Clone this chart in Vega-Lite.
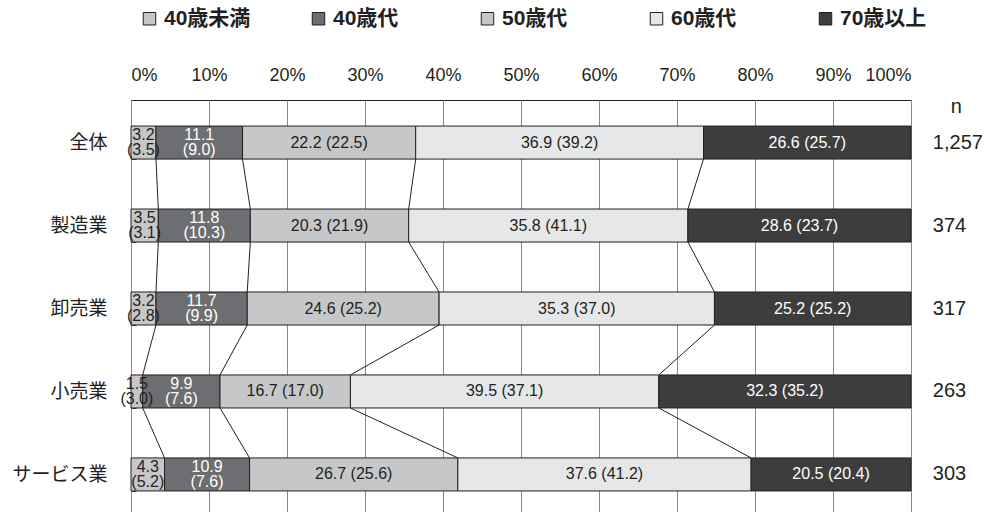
{
  "$schema": "https://vega.github.io/schema/vega-lite/v6.json",
  "autosize": {"type": "none"},
  "padding": {"left": 131, "top": 100, "right": 93, "bottom": 0},
  "width": 780,
  "height": 417,
  "config": {
    "view": {"stroke": "#231f20", "strokeWidth": 1},
    "font": "Liberation Sans"
  },
  "datasets": {
    "main": [
      {"cat": "全体", "ci": 1, "age": "40歳未満", "ai": 1, "v": 3.2, "p": 3.5},
      {"cat": "全体", "ci": 1, "age": "40歳代", "ai": 2, "v": 11.1, "p": 9.0},
      {"cat": "全体", "ci": 1, "age": "50歳代", "ai": 3, "v": 22.2, "p": 22.5},
      {"cat": "全体", "ci": 1, "age": "60歳代", "ai": 4, "v": 36.9, "p": 39.2},
      {"cat": "全体", "ci": 1, "age": "70歳以上", "ai": 5, "v": 26.6, "p": 25.7},
      {"cat": "製造業", "ci": 2, "age": "40歳未満", "ai": 1, "v": 3.5, "p": 3.1},
      {"cat": "製造業", "ci": 2, "age": "40歳代", "ai": 2, "v": 11.8, "p": 10.3},
      {"cat": "製造業", "ci": 2, "age": "50歳代", "ai": 3, "v": 20.3, "p": 21.9},
      {"cat": "製造業", "ci": 2, "age": "60歳代", "ai": 4, "v": 35.8, "p": 41.1},
      {"cat": "製造業", "ci": 2, "age": "70歳以上", "ai": 5, "v": 28.6, "p": 23.7},
      {"cat": "卸売業", "ci": 3, "age": "40歳未満", "ai": 1, "v": 3.2, "p": 2.8},
      {"cat": "卸売業", "ci": 3, "age": "40歳代", "ai": 2, "v": 11.7, "p": 9.9},
      {"cat": "卸売業", "ci": 3, "age": "50歳代", "ai": 3, "v": 24.6, "p": 25.2},
      {"cat": "卸売業", "ci": 3, "age": "60歳代", "ai": 4, "v": 35.3, "p": 37.0},
      {"cat": "卸売業", "ci": 3, "age": "70歳以上", "ai": 5, "v": 25.2, "p": 25.2},
      {"cat": "小売業", "ci": 4, "age": "40歳未満", "ai": 1, "v": 1.5, "p": 3.0},
      {"cat": "小売業", "ci": 4, "age": "40歳代", "ai": 2, "v": 9.9, "p": 7.6},
      {"cat": "小売業", "ci": 4, "age": "50歳代", "ai": 3, "v": 16.7, "p": 17.0},
      {"cat": "小売業", "ci": 4, "age": "60歳代", "ai": 4, "v": 39.5, "p": 37.1},
      {"cat": "小売業", "ci": 4, "age": "70歳以上", "ai": 5, "v": 32.3, "p": 35.2},
      {"cat": "サービス業", "ci": 5, "age": "40歳未満", "ai": 1, "v": 4.3, "p": 5.2},
      {"cat": "サービス業", "ci": 5, "age": "40歳代", "ai": 2, "v": 10.9, "p": 7.6},
      {"cat": "サービス業", "ci": 5, "age": "50歳代", "ai": 3, "v": 26.7, "p": 25.6},
      {"cat": "サービス業", "ci": 5, "age": "60歳代", "ai": 4, "v": 37.6, "p": 41.2},
      {"cat": "サービス業", "ci": 5, "age": "70歳以上", "ai": 5, "v": 20.5, "p": 20.4}
    ],
    "ns": [
      {"cat": "全体", "n": 1257},
      {"cat": "製造業", "n": 374},
      {"cat": "卸売業", "n": 317},
      {"cat": "小売業", "n": 263},
      {"cat": "サービス業", "n": 303}
    ]
  },
  "data": {"name": "main"},
  "layer": [
    {
      "transform": [
        {"stack": "v", "groupby": ["cat"], "sort": [{"field": "ai"}], "offset": "normalize", "as": ["s0", "s1"]}
      ],
      "mark": {"type": "bar", "stroke": "#231f20", "strokeWidth": 1},
      "encoding": {
        "x": {
          "field": "s0", "type": "quantitative",
          "scale": {"domain": [0, 1], "nice": false, "zero": true},
          "axis": {
            "orient": "top", "format": ".0%", "values": [0, 0.1, 0.2, 0.3, 0.4, 0.5, 0.6, 0.7, 0.8, 0.9, 1],
            "grid": true, "gridColor": "#8a8a8a", "gridWidth": 1, "ticks": false, "domain": false,
            "labelFontSize": 18, "labelColor": "#231f20", "labelPadding": 16, "title": null, "labelFont": "Liberation Sans"
          }
        },
        "x2": {"field": "s1"},
        "y": {
          "field": "cat", "type": "nominal",
          "scale": {"type": "band", "domain": ["全体", "製造業", "卸売業", "小売業", "サービス業"], "paddingInner": 0.602, "paddingOuter": 0.314},
          "axis": {
            "title": null, "domain": false, "tickBand": "extent", "tickSize": -5, "tickColor": "#444444", "tickWidth": 1,
            "labelFontSize": 19, "labelFont": "Noto Sans CJK JP", "labelColor": "#231f20", "labelPadding": 29, "grid": false
          }
        },
        "fill": {
          "field": "age", "type": "nominal",
          "scale": {"domain": ["40歳未満", "40歳代", "50歳代", "60歳代", "70歳以上"], "range": ["#c6c7c9", "#6d6e71", "#c6c7c9", "#e6e7e8", "#3d3d3e"]},
          "legend": {
            "title": null, "orient": "none", "direction": "horizontal", "legendX": 8, "legendY": -92,
            "padding": 0, "symbolType": "square", "symbolSize": 156, "symbolStrokeColor": "#231f20", "symbolStrokeWidth": 1,
            "labelFontSize": 21, "labelFontWeight": "bold", "labelFont": "Liberation Sans, Noto Sans CJK JP", "labelColor": "#231f20",
            "labelLimit": 300, "labelOffset": 4, "gridAlign": "all", "columnPadding": 57
          }
        }
      }
    },
    {
      "transform": [
        {"stack": "v", "groupby": ["cat"], "sort": [{"field": "ai"}], "offset": "normalize", "as": ["s0", "s1"]},
        {"filter": "datum.ai < 5"},
        {"window": [{"op": "lead", "field": "s1", "as": "ns1"}, {"op": "lead", "field": "cat", "as": "ncat"}], "groupby": ["ai"], "sort": [{"field": "ci"}]},
        {"filter": "datum.ncat != null"}
      ],
      "mark": {"type": "rule", "color": "#231f20", "strokeWidth": 1},
      "encoding": {
        "x": {"field": "s1", "type": "quantitative", "scale": {"domain": [0, 1]}},
        "x2": {"field": "ns1"},
        "y": {"field": "cat", "type": "nominal", "bandPosition": 1},
        "y2": {"field": "ncat", "bandPosition": 0}
      }
    },
    {
      "transform": [
        {"stack": "v", "groupby": ["cat"], "sort": [{"field": "ai"}], "offset": "normalize", "as": ["s0", "s1"]},
        {"filter": "datum.ai >= 3"},
        {"calculate": "(datum.s0 + datum.s1) / 2", "as": "mid"},
        {"calculate": "format(datum.v, '.1f') + ' (' + format(datum.p, '.1f') + ')'", "as": "label"}
      ],
      "mark": {"type": "text", "fontSize": 16, "baseline": "middle", "align": "center", "font": "Liberation Sans"},
      "encoding": {
        "x": {"field": "mid", "type": "quantitative", "scale": {"domain": [0, 1]}},
        "y": {"field": "cat", "type": "nominal"},
        "text": {"field": "label"},
        "color": {"condition": {"test": "datum.ai == 5", "value": "#ffffff"}, "value": "#231f20"}
      }
    },
    {
      "transform": [
        {"stack": "v", "groupby": ["cat"], "sort": [{"field": "ai"}], "offset": "normalize", "as": ["s0", "s1"]},
        {"filter": "datum.ai <= 2"},
        {"calculate": "(datum.s0 + datum.s1) / 2", "as": "mid"},
        {"calculate": "format(datum.v, '.1f') + '\\n(' + format(datum.p, '.1f') + ')'", "as": "label"}
      ],
      "mark": {"type": "text", "fontSize": 16, "lineBreak": "\n", "lineHeight": 15, "baseline": "middle", "align": "center", "dy": -7.5, "font": "Liberation Sans"},
      "encoding": {
        "x": {"field": "mid", "type": "quantitative", "scale": {"domain": [0, 1]}},
        "y": {"field": "cat", "type": "nominal"},
        "text": {"field": "label"},
        "color": {"condition": {"test": "datum.ai == 2", "value": "#ffffff"}, "value": "#231f20"}
      }
    },
    {
      "data": {"name": "ns"},
      "mark": {"type": "text", "fontSize": 20, "align": "left", "baseline": "middle", "color": "#231f20", "font": "Liberation Sans"},
      "encoding": {
        "x": {"datum": 1.028, "type": "quantitative", "scale": {"domain": [0, 1]}},
        "y": {"field": "cat", "type": "nominal"},
        "text": {"field": "n", "type": "quantitative", "format": ","}
      }
    },
    {
      "data": {"values": [{"h": "n"}]},
      "mark": {"type": "text", "fontSize": 20, "align": "center", "baseline": "alphabetic", "dy": -29.5, "color": "#231f20", "font": "Liberation Sans"},
      "encoding": {
        "x": {"datum": 1.058, "type": "quantitative", "scale": {"domain": [0, 1]}},
        "y": {"datum": "全体", "type": "nominal"},
        "text": {"field": "h"}
      }
    }
  ]
}
